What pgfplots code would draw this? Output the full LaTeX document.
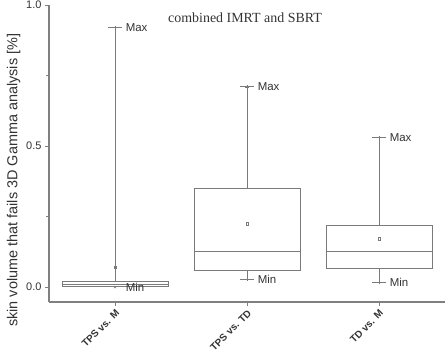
\documentclass[border=0pt]{standalone}
\usepackage{fontspec}
\setmainfont{Liberation Sans}
\newfontfamily\seriffont{Liberation Serif}
\usepackage{pgfplots}
\pgfplotsset{compat=1.18}
\definecolor{ln}{HTML}{7A7A7A}
\definecolor{ax}{HTML}{808080}
\definecolor{tx}{HTML}{333333}
\pgfplotsset{bx/.style={ln,line width=0.6pt,mark=none,unbounded coords=jump}}
\begin{document}
\begin{tikzpicture}
\begin{axis}[scale only axis,width=396bp,height=297bp,
  xmin=0.5,xmax=3.5,ymin=-0.053,ymax=1.0,
  axis lines*=left,axis line style={ax,line width=1.4pt},
  tick align=outside,major tick length=4bp,minor tick length=3bp,
  tick style={ax,line width=0.8pt},
  xtick={1,2,3},xticklabels={TPS vs. M,TPS vs. TD,TD vs. M},
  x tick label style={rotate=45,anchor=north east,font=\fontsize{10}{12}\selectfont\bfseries,text=tx,inner sep=2pt},
  ytick={0,0.5,1},minor ytick={0.25,0.75},
  yticklabel style={/pgf/number format/fixed,/pgf/number format/fixed zerofill,/pgf/number format/precision=1,font=\fontsize{11}{13}\selectfont,text=tx},
  /pgf/number format/assume math mode=true,
  ylabel={skin volume that fails 3D Gamma analysis [\%]},
  ylabel style={at={(axis description cs:-0.072,0.41)},anchor=south,font=\fontsize{14.5}{16}\selectfont,text=tx,inner sep=0pt},
  clip=false]
% TPS vs. M: box q1/q3, median, whiskers and caps
\addplot[bx] coordinates {(0.6,0.002) (1.4,0.002) (1.4,0.02) (0.6,0.02) (0.6,0.002)
  (nan,nan) (0.6,0.01) (1.4,0.01)
  (nan,nan) (1,0.02) (1,0.92) (nan,nan) (0.95,0.92) (1.05,0.92)};
% TPS vs. TD
\addplot[bx] coordinates {(1.6,0.06) (2.4,0.06) (2.4,0.349) (1.6,0.349) (1.6,0.06)
  (nan,nan) (1.6,0.128) (2.4,0.128)
  (nan,nan) (2,0.349) (2,0.71) (nan,nan) (1.95,0.71) (2.05,0.71)
  (nan,nan) (2,0.06) (2,0.028) (nan,nan) (1.95,0.028) (2.05,0.028)};
% TD vs. M
\addplot[bx] coordinates {(2.6,0.068) (3.4,0.068) (3.4,0.22) (2.6,0.22) (2.6,0.068)
  (nan,nan) (2.6,0.128) (3.4,0.128)
  (nan,nan) (3,0.22) (3,0.53) (nan,nan) (2.95,0.53) (3.05,0.53)
  (nan,nan) (3,0.068) (3,0.018) (nan,nan) (2.95,0.018) (3.05,0.018)};
% means
\addplot[only marks,mark=square,mark size=1.3pt,ln,line width=0.4pt] coordinates {(1,0.071) (2,0.224) (3,0.171)};
% max / min markers
\addplot[only marks,mark=+,mark size=1.6pt,ln,line width=0.5pt] coordinates {(1,0.92) (2,0.71) (2,0.028) (3,0.53) (3,0.018)};
\addplot[only marks,mark=x,mark size=1.6pt,ln,line width=0.5pt] coordinates {(1,0.0)};
\node[anchor=west,font=\fontsize{11.5}{13}\selectfont,text=tx] at (axis cs:1.055,0.92) {Max};
\node[anchor=west,font=\fontsize{11.5}{13}\selectfont,text=tx] at (axis cs:1.055,0.0) {Min};
\node[anchor=west,font=\fontsize{11.5}{13}\selectfont,text=tx] at (axis cs:2.055,0.71) {Max};
\node[anchor=west,font=\fontsize{11.5}{13}\selectfont,text=tx] at (axis cs:2.055,0.028) {Min};
\node[anchor=west,font=\fontsize{11.5}{13}\selectfont,text=tx] at (axis cs:3.055,0.53) {Max};
\node[anchor=west,font=\fontsize{11.5}{13}\selectfont,text=tx] at (axis cs:3.055,0.018) {Min};
\node[font=\seriffont\fontsize{14}{16}\selectfont,text=tx] at (axis description cs:0.495,0.956) {combined IMRT and SBRT};
\end{axis}
\pgfresetboundingbox
\path[use as bounding box] ([xshift=-49bp,yshift=-53bp]current axis.south west) rectangle ([yshift=5bp]current axis.north east);
\end{tikzpicture}
\end{document}
